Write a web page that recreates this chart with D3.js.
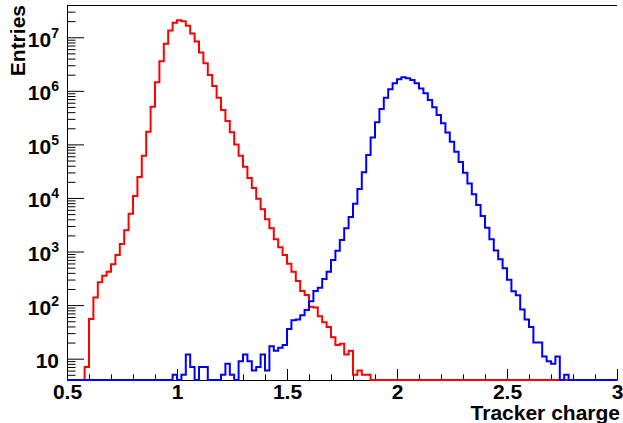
<!DOCTYPE html>
<html>
<head>
<meta charset="utf-8">
<script src="https://cdn.jsdelivr.net/npm/d3@7"></script>
<style>
  body { margin: 0; background: #fff; }
  text { font-family: "Liberation Sans", Arial, sans-serif; font-weight: bold; }
</style>
</head>
<body>
<svg width="623" height="423"></svg>
<script>
// histogram binning: 125 bins of 0.02 from 0.5 to 3.0
const binLo = 0.5;
const binW = 0.02;

// red histogram (bin contents)
const redCounts = [
  0, 0, 0, 0,
  7, 55, 138, 266, 355, 421, 577, 862, 1384, 2490,
  5090, 10900, 24600, 61600, 173000, 506000, 1440000, 3550000, 7600000, 13300000,
  18700000, 20700000, 19800000, 16400000, 11700000, 8300000, 5200000, 3260000, 1970000, 1230000,
  745000, 438000, 273000, 168000, 100000, 61600, 38400, 23600, 15400, 9700,
  6140, 3990, 2710, 1690, 1200, 862, 594, 421, 282, 183,
  155, 93, 90, 62, 48, 39, 25, 18, 19, 12,
  14, 5, 6, 5, 5,
  0, 0, 0, 0, 0, 0, 0, 0, 0, 0, 0, 0, 0, 0, 0, 0, 0, 0, 0, 0,
  0, 0, 0, 0, 0, 0, 0, 0, 0, 0, 0, 0, 0, 0, 0, 0, 0, 0, 0, 0,
  0, 0, 0, 0, 0, 0, 0, 0, 0, 0, 0, 0, 0, 0, 0, 0
];

// blue histogram (bin contents)
const blueCounts = [
  0, 0, 0, 0, 0, 0, 0, 0, 0, 0, 0, 0, 0, 0, 0, 0, 0, 0, 0, 0, 0, 0, 0, 0,
  5, 0, 5, 12, 7, 0, 7, 7, 0, 0,
  0, 5, 8, 5, 0, 9, 12, 9, 6, 7,
  12, 6, 17, 14, 16, 18, 36, 52, 54, 65,
  81, 118, 183, 212, 307, 421, 695, 1040, 1640, 2710,
  4410, 7830, 14700, 30100, 63400, 134000, 258000, 458000, 746000, 1070000,
  1380000, 1640000, 1790000, 1710000, 1590000, 1380000, 1110000, 898000, 675000, 492000,
  354000, 247000, 166000, 112000, 73100, 46900, 29600, 18700, 11700, 7390,
  4610, 2790, 1690, 1050, 716, 486, 299, 181, 152, 83,
  54, 39, 20, 20, 11, 9, 8, 11, 0, 5,
  0, 0, 0, 0, 0, 0, 0, 0, 0, 0, 0
];

// axis ticks
const xTicks = [0.5, 1, 1.5, 2, 2.5, 3];
const xTickLabels = ["0.5", "1", "1.5", "2", "2.5", "3"];
const yTickExps = [1, 2, 3, 4, 5, 6, 7];

const xTitle = "Tracker charge";
const yTitle = "Entries";

// frame
const frame = { left: 67, right: 617, top: 5, bottom: 380 };
const yMin = 4, yMax = 4e7;

const svg = d3.select("svg");
svg.append("rect").attr("width", 623).attr("height", 423).attr("fill", "#fff");

const x = d3.scaleLinear().domain([0.5, 3]).range([frame.left, frame.right]);
const y = d3.scaleLog().domain([yMin, yMax]).range([frame.bottom, frame.top]);

// top frame line
svg.append("line")
  .attr("x1", frame.left).attr("x2", frame.right)
  .attr("y1", frame.top + 0.5).attr("y2", frame.top + 0.5)
  .attr("stroke", "#000").attr("stroke-width", 1);

// x axis: major + minor ticks pointing up into the frame
const xMinor = d3.range(5, 31).map(k => k / 10).filter(v => Math.round(v * 10) % 5 !== 0);
svg.append("g")
  .attr("transform", `translate(0,${frame.bottom})`)
  .call(d3.axisBottom(x).tickValues(xMinor).tickSize(-5.6).tickSizeOuter(0).tickFormat(""))
  .call(g => g.select(".domain").remove());

const xAxisG = svg.append("g")
  .attr("transform", `translate(0,${frame.bottom})`)
  .call(d3.axisBottom(x).tickValues(xTicks).tickSize(-11).tickSizeOuter(0).tickPadding(4)
    .tickFormat((d, i) => xTickLabels[i]));
xAxisG.selectAll("text").attr("font-size", 21).attr("fill", "#000");

// y axis: log, inward ticks
const yMajor = yTickExps.map(e => Math.pow(10, e));
const yMinor = y.ticks().filter(v => !yMajor.includes(v) && v > yMin);
svg.append("g")
  .attr("transform", `translate(${frame.left},0)`)
  .call(d3.axisLeft(y).tickValues(yMinor).tickSize(-8.5).tickSizeOuter(0).tickFormat(""))
  .call(g => g.select(".domain").remove());

const yAxisG = svg.append("g")
  .attr("transform", `translate(${frame.left},0)`)
  .call(d3.axisLeft(y).tickValues(yMajor).tickSize(-17).tickSizeOuter(0).tickPadding(8));
yAxisG.selectAll(".tick text")
  .attr("font-size", 21)
  .attr("fill", "#000")
  .attr("dy", "0.43em")
  .each(function(d, i) {
    const t = d3.select(this);
    const e = yTickExps[i];
    t.text(null);
    if (e === 1) {
      t.text("10");
    } else {
      t.append("tspan").text("10");
      t.append("tspan").attr("dy", -9).attr("font-size", 14).text(e);
    }
  });

// histograms as step lines
const step = d3.line()
  .x(d => x(d[0]))
  .y(d => y(Math.max(d[1], yMin)))
  .curve(d3.curveStepAfter);

function histPoints(counts) {
  const pts = counts.map((c, i) => [binLo + i * binW, c]);
  pts.push([binLo + counts.length * binW, counts[counts.length - 1]]);
  return pts;
}

svg.append("path")
  .attr("d", step(histPoints(redCounts)))
  .attr("fill", "none")
  .attr("stroke", "#ff0000")
  .attr("stroke-width", 2);

svg.append("path")
  .attr("d", step(histPoints(blueCounts)))
  .attr("fill", "none")
  .attr("stroke", "#0000ff")
  .attr("stroke-width", 2);

// axis titles
svg.append("text")
  .attr("x", 620)
  .attr("y", 419.5)
  .attr("text-anchor", "end")
  .attr("font-size", 21)
  .text(xTitle);

svg.append("text")
  .attr("transform", "rotate(-90)")
  .attr("x", -frame.top)
  .attr("y", 25)
  .attr("text-anchor", "end")
  .attr("font-size", 21)
  .text(yTitle);
</script>
</body>
</html>
